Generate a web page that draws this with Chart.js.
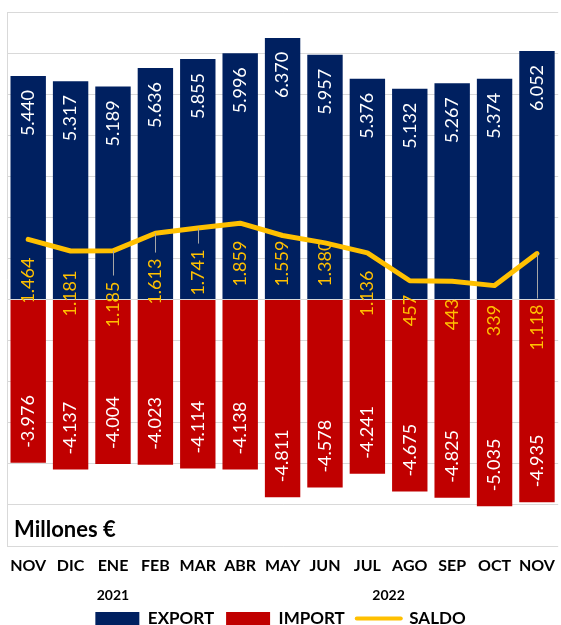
<!DOCTYPE html>
<html>
<head>
<meta charset="utf-8">
<script src="https://cdn.jsdelivr.net/npm/chart.js@4.4.1/dist/chart.umd.min.js"></script>
<style>
  html, body { margin: 0; padding: 0; background: #fff; overflow: hidden; }
  #wrap { width: 565px; height: 640px; position: relative; }
</style>
</head>
<body>
<div id="wrap"><canvas id="chart"></canvas></div>
<script>
const MONTHS = ['NOV', 'DIC', 'ENE', 'FEB', 'MAR', 'ABR', 'MAY', 'JUN', 'JUL', 'AGO', 'SEP', 'OCT', 'NOV'];
const EXPORT = [5440, 5317, 5189, 5636, 5855, 5996, 6370, 5957, 5376, 5132, 5267, 5374, 6052];
const IMPORT = [-3976, -4137, -4004, -4023, -4114, -4138, -4811, -4578, -4241, -4675, -4825, -5035, -4935];
const SALDO = [1464, 1181, 1185, 1613, 1741, 1859, 1559, 1380, 1136, 457, 443, 339, 1118];
const YEARS = ['2021', '2022'];
const YEAR_AT = [2, 8.5];

const NAVY = '#002060';
const RED = '#C00000';
const GOLD = '#FFC000';
const GRID = '#D9D9D9';
const FONT = 'Lato, "Open Sans", sans-serif';

// where the saldo labels sit (axis units) and which get a leader line
const SALDO_LABEL_AT = [462, 146, -122, 437, 656, 875, 875, 875, 146, -267, -365, -510, -680];
const SALDO_LEADER = [0, 0, 1, 1, 1, 0, 0, 0, 0, 0, 0, 0, 1];

const fmt = v => (v < 0 ? '-' : '') + String(Math.abs(v)).replace(/\B(?=(\d{3})+(?!\d))/g, '.');

function vText(ctx, text, x, y, align, color) {
  ctx.save();
  ctx.translate(x, y);
  ctx.rotate(-Math.PI / 2);
  ctx.textAlign = align;
  ctx.textBaseline = 'middle';
  ctx.fillStyle = color;
  ctx.fillText(text, 0, 0);
  ctx.restore();
}

const extras = {
  id: 'extras',
  afterLayout(chart) {
    // legend sits a little left of centre and a bit higher in the original
    const lg = chart.legend;
    if (lg) {
      lg.left -= 5; lg.right -= 5;
      lg.top -= 3; lg.bottom -= 3;
    }
  },
  afterDatasetsDraw(chart) {
    const { ctx, chartArea: a, scales: { x, y } } = chart;
    const exp = chart.getDatasetMeta(0).data;
    const imp = chart.getDatasetMeta(1).data;
    const sal = chart.getDatasetMeta(2).data;
    ctx.save();
    ctx.font = '18px ' + FONT;
    exp.forEach((b, i) => vText(ctx, fmt(EXPORT[i]), b.x, b.y + 14, 'right', '#fff'));
    imp.forEach((b, i) => vText(ctx, fmt(IMPORT[i]), b.x, b.y - 15, 'left', '#fff'));
    sal.forEach((p, i) => {
      const cy = y.getPixelForValue(SALDO_LABEL_AT[i]);
      const txt = fmt(SALDO[i]);
      const half = ctx.measureText(txt).width / 2;
      if (SALDO_LEADER[i]) {
        ctx.strokeStyle = '#A6A6A6';
        ctx.lineWidth = 1;
        ctx.beginPath();
        ctx.moveTo(Math.round(p.x) + 0.5, p.y);
        ctx.lineTo(Math.round(p.x) + 0.5, cy - half - 6);
        ctx.stroke();
      }
      vText(ctx, txt, p.x, cy, 'center', GOLD);
    });

    ctx.fillStyle = '#000';
    ctx.textAlign = 'left';
    ctx.textBaseline = 'middle';
    ctx.font = 'bold 22px ' + FONT;
    ctx.fillText('Millones €', a.left + 7, a.bottom - 16);

    ctx.textAlign = 'center';
    ctx.font = 'bold 14px ' + FONT;
    YEARS.forEach((yr, i) => ctx.fillText(yr, x.getPixelForValue(YEAR_AT[i]), a.bottom + 49));
    ctx.restore();
  }
};

new Chart(document.getElementById('chart'), {
  data: {
    labels: MONTHS,
    datasets: [
      { type: 'bar', label: 'EXPORT', data: EXPORT, backgroundColor: NAVY, grouped: false,
        barPercentage: 1, categoryPercentage: 0.835 },
      { type: 'bar', label: 'IMPORT', data: IMPORT, backgroundColor: RED, grouped: false,
        barPercentage: 1, categoryPercentage: 0.835 },
      { type: 'line', label: 'SALDO', data: SALDO, borderColor: GOLD, backgroundColor: GOLD,
        borderWidth: 5, pointRadius: 0, tension: 0, fill: false, order: -1,
        borderJoinStyle: 'round', borderCapStyle: 'round' }
    ]
  },
  options: {
    responsive: true,
    maintainAspectRatio: false,
    animation: false,
    events: [],
    layout: { padding: { top: 12, left: 7, right: 1, bottom: 0 } },
    plugins: {
      tooltip: { enabled: false },
      legend: {
        position: 'bottom',
        labels: {
          usePointStyle: true,
          pointStyleWidth: 44,
          boxHeight: 13,
          padding: 12,
          color: '#000',
          font: { family: FONT, size: 17, weight: 'bold' },
          generateLabels: chart => chart.data.datasets.map((ds, i) => ({
            text: ds.label,
            datasetIndex: i,
            fillStyle: ds.backgroundColor,
            strokeStyle: ds.type === 'line' ? ds.borderColor : ds.backgroundColor,
            lineWidth: ds.type === 'line' ? 4 : 0,
            lineCap: 'round',
            pointStyle: ds.type === 'line' ? 'line' : 'rect',
            fontColor: '#000',
            hidden: false
          }))
        }
      }
    },
    scales: {
      x: {
        grid: { display: false, drawTicks: false },
        border: { display: false },
        ticks: { color: '#000', padding: 10, maxRotation: 0, autoSkip: false,
                 font: { family: FONT, size: 16, weight: 'bold' } },
        afterFit: s => { s.height = 55; }
      },
      y: {
        min: -6000,
        max: 7000,
        ticks: { display: false, stepSize: 1000 },
        grid: { color: GRID, drawTicks: false },
        border: { display: true, color: GRID }
      }
    }
  },
  plugins: [extras]
});
</script>
</body>
</html>
